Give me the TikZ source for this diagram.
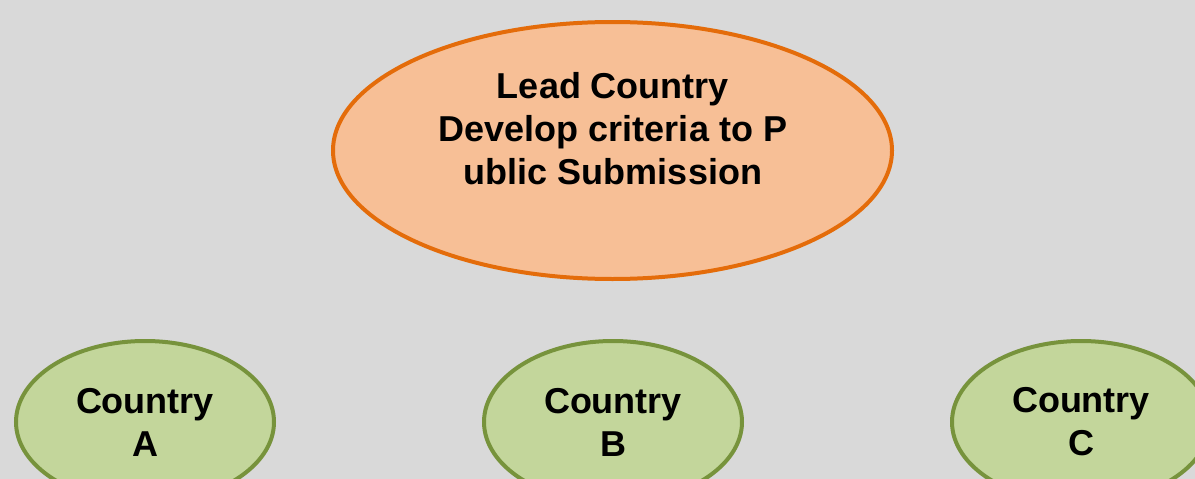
\documentclass[tikz,border=0pt]{standalone}
\usepackage{fontspec}
\setmainfont{Liberation Sans}
\usetikzlibrary{shapes.geometric}
\definecolor{bggray}{RGB}{217,217,217}
\definecolor{leadfill}{RGB}{247,191,150}
\definecolor{leadline}{RGB}{228,108,10}
\definecolor{ctryfill}{RGB}{195,214,155}
\definecolor{ctryline}{RGB}{119,147,60}

\begin{document}
\begin{tikzpicture}[x=1pt, y=-1pt,
        bigtext/.style={font=\fontsize{36}{43}\selectfont\bfseries, align=center},
        leadoval/.style={ellipse, draw=leadline, fill=leadfill, line width=4pt,
            minimum width=559pt, minimum height=257pt},
        countryoval/.style={ellipse, draw=ctryline, fill=ctryfill, line width=4pt,
            minimum width=258pt, minimum height=162pt, inner sep=0pt, bigtext}]
        \fill [bggray] (0,0) rectangle (1195,479);
        \useasboundingbox (0,0) rectangle (1195,479);

        \node [leadoval] (lead) at (612.5,150.5) {};
        \node [bigtext] (leadtext) at (613,129) {Lead Country\\Develop criteria to P\\ublic Submission};

        \node [countryoval] (ctryA) at (145,422) {Country\\A};
        \node [countryoval] (ctryB) at (613,422) {Country\\B};
        \node [countryoval] (ctryC) at (1081,422) {Country\\C};
    \end{tikzpicture}
\end{document}
